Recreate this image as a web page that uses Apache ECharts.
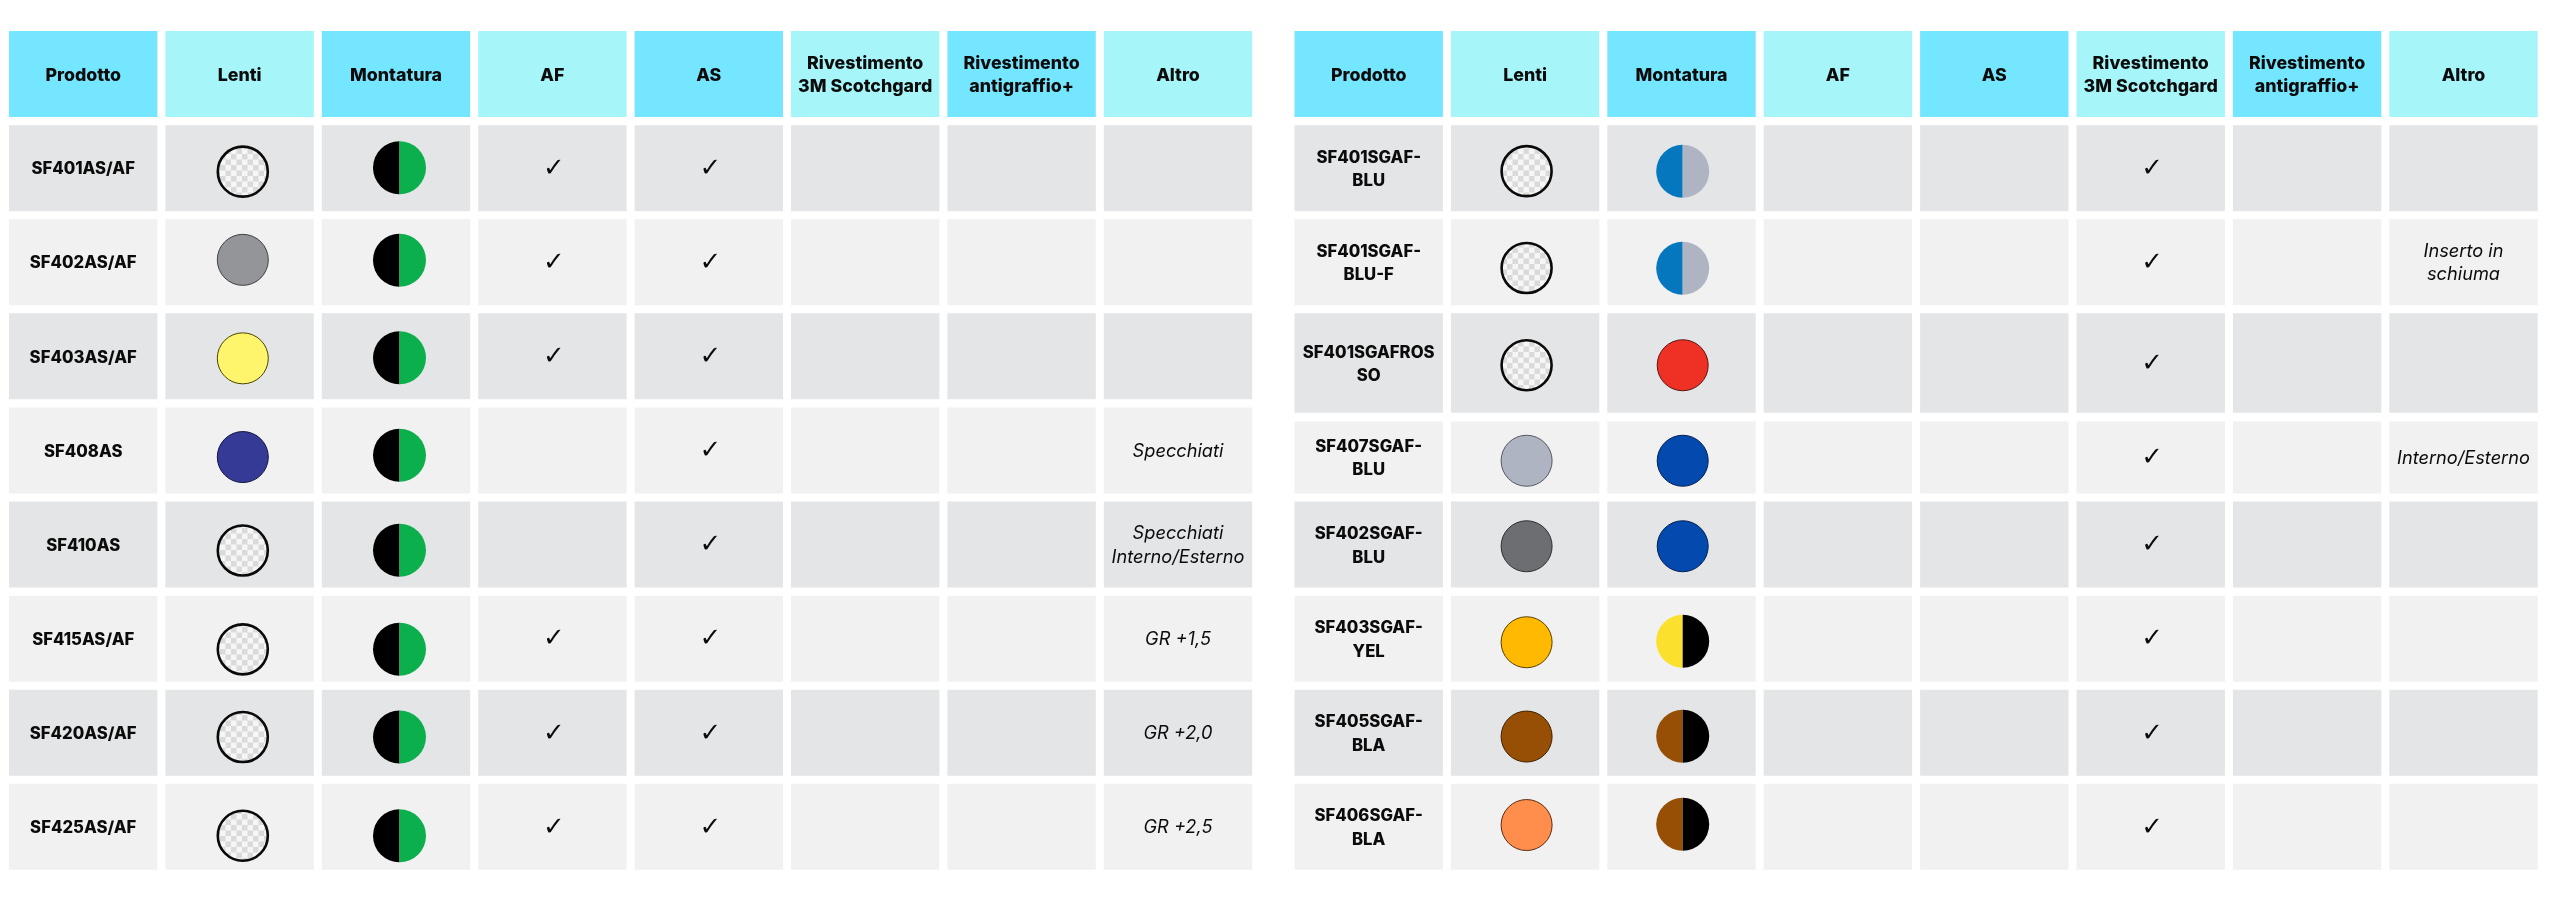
<!DOCTYPE html>
<html>
<head>
<meta charset="utf-8">
<title>Prodotti</title>
<script src="https://cdn.jsdelivr.net/npm/echarts@6/dist/echarts.min.js"></script>
<style>
	html, body { margin: 0; padding: 0; background: #fff; }
	#charts { width: 2560px; height: 901px; }
</style>
</head>
<body>
<div id="charts"></div>
<script>
// colonne
var colonne = ['Prodotto', 'Lenti', 'Montatura', 'AF', 'AS', 'Rivestimento\n3M Scotchgard', 'Rivestimento\nantigraffio+', 'Altro'];

// tabella sinistra
var prodottiSx = ['SF401AS/AF', 'SF402AS/AF', 'SF403AS/AF', 'SF408AS', 'SF410AS', 'SF415AS/AF', 'SF420AS/AF', 'SF425AS/AF'];
var lentiSx = ['trasparente', 'grigio', 'giallo', 'indaco', 'trasparente', 'trasparente', 'trasparente', 'trasparente'];
var montaturaSx = ['nero/verde', 'nero/verde', 'nero/verde', 'nero/verde', 'nero/verde', 'nero/verde', 'nero/verde', 'nero/verde'];
var afSx = [1, 1, 1, 0, 0, 1, 1, 1];
var asSx = [1, 1, 1, 1, 1, 1, 1, 1];
var scotchSx = [0, 0, 0, 0, 0, 0, 0, 0];
var altroSx = ['', '', '', 'Specchiati', 'Specchiati\nInterno/Esterno', 'GR +1,5', 'GR +2,0', 'GR +2,5'];

// tabella destra
var prodottiDx = ['SF401SGAF-\nBLU', 'SF401SGAF-\nBLU-F', 'SF401SGAFROS\nSO', 'SF407SGAF-\nBLU', 'SF402SGAF-\nBLU', 'SF403SGAF-\nYEL', 'SF405SGAF-\nBLA', 'SF406SGAF-\nBLA'];
var lentiDx = ['trasparente', 'trasparente', 'trasparente', 'argento', 'fumo', 'ambra', 'marrone', 'arancio'];
var montaturaDx = ['azzurro/argento', 'azzurro/argento', 'rosso', 'blu', 'blu', 'limone/nero', 'marrone/nero', 'marrone/nero'];
var afDx = [0, 0, 0, 0, 0, 0, 0, 0];
var asDx = [0, 0, 0, 0, 0, 0, 0, 0];
var scotchDx = [1, 1, 1, 1, 1, 1, 1, 1];
var altroDx = ['', 'Inserto in\nschiuma', '', 'Interno/Esterno', '', '', '', ''];

// colori
var tinte = {
	grigio: '#939598', giallo: '#FFF56D', indaco: '#353A96', argento: '#AEB4C1', fumo: '#6D6E71',
	ambra: '#FFBA00', marrone: '#964F04', arancio: '#FF8E4D', nero: '#000000', verde: '#0BB04C',
	azzurro: '#0577BF', rosso: '#EF3024', blu: '#0449AE', limone: '#FBE12D'
};
var bordi = {
	grigio: '#3f4044', giallo: '#4a4300', indaco: '#12143f', argento: '#55585f', fumo: '#2c2d30',
	ambra: '#5a4000', marrone: '#3c1f00', arancio: '#5c2c10', rosso: '#5a1410', blu: '#02214f'
};
var testaScura = '#75E6FF', testaChiara = '#A5F5F9', rigaScura = '#E3E5E7', rigaChiara = '#F1F1F2';

var fontTesta = '800 17.8px Inter', fontProdotto = '800 16.7px Inter', fontCorsivo = 'italic 18.2px Inter', fontSpunta = '26px "DejaVu Sans"';
var larghezzaCella = 148.4, altezzaCella = 86, raggio = 26;

// scarti in px dal centro riga dei cerchi
var scartoLentiSx = [3.5, -2.4, 2, 6.6, 6, 10.7, 4.3, 8.9];
var scartoMontSx = [-0.5, -2, 1.5, 4.9, 5.8, 10.7, 4.3, 8.9];
var scartoLentiDx = [3, 5.8, 8.9, 10.3, 1.7, 3.6, 3.8, -1.8];
var scartoMontDx = [3.2, 6.1, 8.9, 10.3, 1.7, 2.6, 3.5, -2.5];

// righe non regolari a destra: [sopra, sotto] in px
var stiraDx = { 3: [0, 13.4], 4: [14, 0] };

function scacchiera() {
	var c = document.createElement('canvas');
	c.width = 11;
	c.height = 11;
	var ctx = c.getContext('2d');
	ctx.fillStyle = '#F6F6F6';
	ctx.fillRect(0, 0, 11, 11);
	ctx.fillStyle = '#DADADA';
	ctx.fillRect(0, 0, 5.5, 5.5);
	ctx.fillRect(5.5, 5.5, 5.5, 5.5);
	return c;
}
var motivo = { image: scacchiera(), repeat: 'repeat' };

function pannello(indice, tab) {
	var celle = [];
	for (var r = 0; r <= tab.prodotti.length; r++) {
		for (var c = 0; c < colonne.length; c++) {
			var testo = '', font = fontTesta, dx = 0, dy = 1.2;
			if (r == 0) {
				testo = colonne[c];
			} else if (c == 0) {
				testo = tab.prodotti[r - 1];
				font = fontProdotto;
			} else if (c == 3 || c == 4 || c == 5) {
				var voce = [tab.af, tab.as, tab.scotch][c - 3][r - 1];
				if (voce) {
					testo = '✓';
					font = fontSpunta;
					dx = 1.5;
					dy = 1;
				}
			} else if (c == 7) {
				testo = tab.altro[r - 1];
				font = fontCorsivo;
				dy = 0.8;
			}
			celle.push({ value: [c, r], testo: testo, font: font, dx: dx, dy: dy });
		}
	}

	var cerchi = [];
	tab.prodotti.forEach(function(p, i) {
		cerchi.push({ value: [1, i + 1], lente: tab.lenti[i], dy: tab.scartoLenti[i] });
		cerchi.push({ value: [2, i + 1], mont: tab.montature[i].split('/'), dy: tab.scartoMont[i] });
	});

	return [{
		type: 'custom',
		xAxisIndex: indice,
		yAxisIndex: indice,
		silent: true,
		animation: false,
		clip: false,
		data: celle,
		renderItem: function(params, api) {
			var cella = celle[params.dataIndex];
			var c = api.value(0), r = api.value(1);
			var centro = api.coord([c, r]);
			var stira = tab.stira[r] || [0, 0];
			var y0 = centro[1] - altezzaCella / 2 + stira[0];
			var y1 = centro[1] + altezzaCella / 2 + stira[1];
			var colore = r == 0 ? (c % 2 == 0 ? testaScura : testaChiara) : (r % 2 == 1 ? rigaScura : rigaChiara);
			return {
				type: 'group',
				children: [{
					type: 'rect',
					shape: { x: centro[0] - larghezzaCella / 2, y: y0, width: larghezzaCella, height: y1 - y0 },
					style: { fill: colore }
				}, {
					type: 'text',
					style: {
						text: cella.testo,
						x: centro[0] + cella.dx,
						y: (y0 + y1) / 2 + cella.dy,
						font: cella.font,
						fill: '#0b0b0b',
						align: 'center',
						verticalAlign: 'middle',
						lineHeight: 23.5
					}
				}]
			};
		}
	}, {
		type: 'custom',
		xAxisIndex: indice,
		yAxisIndex: indice,
		silent: true,
		animation: false,
		clip: false,
		z: 3,
		data: cerchi,
		renderItem: function(params, api) {
			var voce = cerchi[params.dataIndex];
			var centro = api.coord([api.value(0), api.value(1)]);
			var cx = centro[0] + tab.dx[api.value(0)];
			var cy = centro[1] + voce.dy;
			if (voce.lente || voce.mont.length == 1) {
				var nome = voce.lente || voce.mont[0];
				var chiara = nome == 'trasparente';
				return {
					type: 'circle',
					shape: { cx: cx, cy: cy, r: chiara ? raggio - 1 : raggio - 0.5 },
					style: {
						fill: chiara ? motivo : tinte[nome],
						stroke: chiara ? '#0a0a0a' : bordi[nome],
						lineWidth: chiara ? 2.6 : 1
					}
				};
			}
			return {
				type: 'group',
				children: [{
					type: 'sector',
					shape: { cx: cx, cy: cy, r: raggio + 0.5, r0: 0, startAngle: Math.PI / 2, endAngle: Math.PI * 1.5 },
					style: { fill: tinte[voce.mont[0]] }
				}, {
					type: 'sector',
					shape: { cx: cx, cy: cy, r: raggio + 0.5, r0: 0, startAngle: -Math.PI / 2, endAngle: Math.PI / 2 },
					style: { fill: tinte[voce.mont[1]] }
				}]
			};
		}
	}];
}

var tabSx = {
	prodotti: prodottiSx, lenti: lentiSx, montature: montaturaSx, af: afSx, as: asSx, scotch: scotchSx, altro: altroSx,
	scartoLenti: scartoLentiSx, scartoMont: scartoMontSx, stira: {}, dx: { 1: 3.2, 2: 3.5 }
};
var tabDx = {
	prodotti: prodottiDx, lenti: lentiDx, montature: montaturaDx, af: afDx, as: asDx, scotch: scotchDx, altro: altroDx,
	scartoLenti: scartoLentiDx, scartoMont: scartoMontDx, stira: stiraDx, dx: { 1: 1.5, 2: 1.2 }
};

function asseX(i) {
	return { type: 'category', gridIndex: i, data: colonne, show: false };
}
function asseY(i, prodotti) {
	return { type: 'category', gridIndex: i, data: ['Intestazione'].concat(prodotti), inverse: true, show: false };
}

var option = {
	animation: false,
	backgroundColor: '#ffffff',
	grid: [
		{ left: 5, top: 27, width: 1251.2, height: 846.9 },
		{ left: 1290.5, top: 27, width: 1251.2, height: 846.9 }
	],
	xAxis: [asseX(0), asseX(1)],
	yAxis: [asseY(0, prodottiSx), asseY(1, prodottiDx)],
	series: pannello(0, tabSx).concat(pannello(1, tabDx))
};

var myChart = echarts.init(document.getElementById('charts'));
myChart.setOption(option);
</script>
</body>
</html>
